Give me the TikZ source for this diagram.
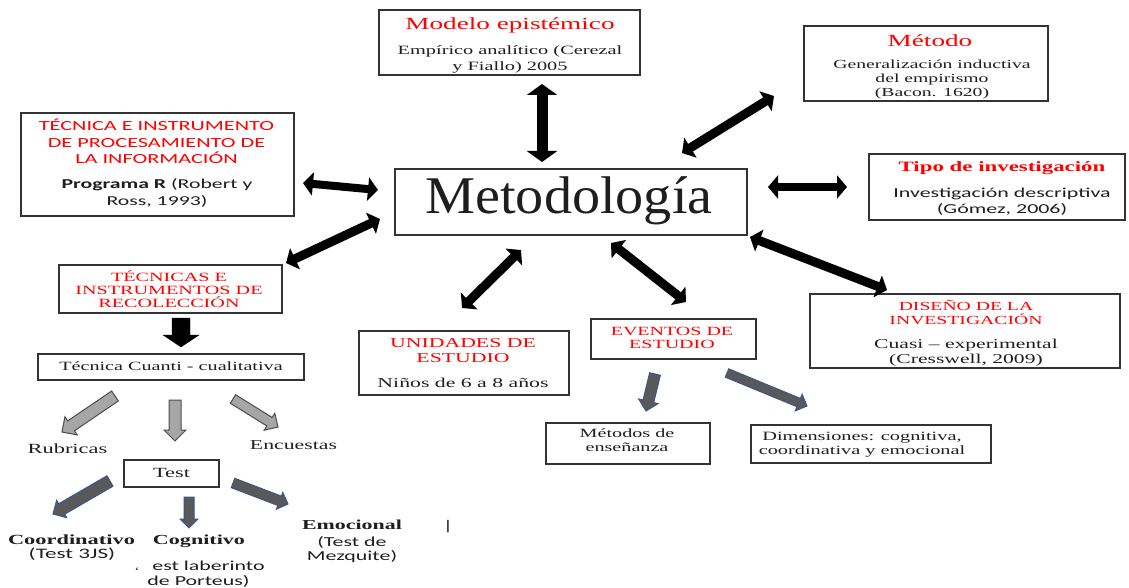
\documentclass[tikz,border=0pt]{standalone}
\usepackage{fontspec}
\setmainfont{Liberation Serif}[FakeStretch=1.6]
\newfontfamily\calw{Carlito}[FakeStretch=1.6]
\newfontfamily\metf{Liberation Serif}[FakeStretch=1.06]
\usetikzlibrary{arrows.meta,calc}
\definecolor{tred}{RGB}{255,0,0}
\definecolor{txt}{RGB}{30,30,30}
\definecolor{bgray}{RGB}{89,89,89}
\definecolor{bblue}{RGB}{60,86,140}
\definecolor{lgray}{RGB}{166,166,166}
\newcommand\fs[1]{\fontsize{#1}{#1}\selectfont}
% block arrow: [style]{from}{to}{shaft half}{head half}{head length}
\newcommand\blkarrow[6][]{%
  \path coordinate (bah) at ($(#3)!#6!(#2)$);
  \draw[#1] ($(#2)!#4!90:(#3)$) -- ($(bah)!#4!90:(#3)$) -- ($(bah)!#5!90:(#3)$)
    -- (#3) -- ($(bah)!#5!-90:(#3)$) -- ($(bah)!#4!-90:(#3)$) -- ($(#2)!#4!-90:(#3)$) -- cycle;}
\tikzset{
  box/.style={draw=black!80, line width=1.3pt, inner sep=0pt},
  tl/.style={anchor=base, inner sep=0pt, text=txt},
  rd/.style={anchor=base, inner sep=0pt, text=tred},
  darr/.style={line width=9pt, {Triangle[width=23pt,length=10pt]}-{Triangle[width=23pt,length=10pt]}},
  darrbig/.style={line width=11pt, {Triangle[width=30pt,length=11pt]}-{Triangle[width=30pt,length=11pt]}},
  garr/.style={fill=lgray, draw=black!70, line width=1pt, line join=miter},
  barr/.style={fill=bgray, draw=bblue, line width=1pt, line join=miter},
}
\begin{document}
\begin{tikzpicture}[x=1pt,y=-1pt]
\useasboundingbox (0,0) rectangle (1129,588);

% ---------- boxes ----------
\node[box, minimum width=261pt, minimum height=65pt] (modelo) at (509.5,42.5) {};
\node[box, minimum width=244pt, minimum height=75pt] (metodo) at (926,63.5) {};
\node[box, minimum width=273pt, minimum height=103pt] (proc) at (157.5,164.5) {};
\node[box, minimum width=352pt, minimum height=66pt] (meto) at (571,202) {};
\node[box, minimum width=256pt, minimum height=66pt] (tipo) at (997,187) {};
\node[box, minimum width=223pt, minimum height=48pt] (recol) at (170.5,289) {};
\node[box, minimum width=266pt, minimum height=26pt] (cuanti) at (171,367) {};
\node[box, minimum width=95pt, minimum height=27pt] (test) at (171.5,473.5) {};
\node[box, minimum width=210pt, minimum height=64pt] (unid) at (464,363) {};
\node[box, minimum width=165pt, minimum height=40pt] (event) at (673.5,339) {};
\node[box, minimum width=310pt, minimum height=74pt] (dise) at (965,331) {};
\node[box, minimum width=164pt, minimum height=41pt] (mens) at (628,443.5) {};
\node[box, minimum width=240pt, minimum height=38pt] (dimen) at (871,444) {};

% ---------- texts ----------
\node[rd, font=\fs{17}] (modeloT) at (510,30) {Modelo epistémico};
\node[tl, font=\fs{12.7}] (modelo1) at (510,55) {Empírico analítico (Cerezal};
\node[tl, font=\fs{12.7}] (modelo2) at (510,71) {y Fiallo) 2005};

\node[rd, font=\fs{17}] (metodoT) at (930,47) {Método};
\node[tl, font=\fs{12.3}] (metodo1) at (932,69) {Generalización inductiva};
\node[tl, font=\fs{12.3}] (metodo2) at (932,83) {del empirismo};
\node[tl, font=\fs{12.3}] (metodo3) at (932,97) {(Bacon. 1620)};

\node[rd, font=\calw\fs{13.9}] (proc1) at (156.5,131) {TÉCNICA E INSTRUMENTO};
\node[rd, font=\calw\fs{13.9}] (proc2) at (156.5,147.5) {DE PROCESAMIENTO DE};
\node[rd, font=\calw\fs{13.9}] (proc3) at (156.5,163.5) {LA INFORMACIÓN};
\node[tl, font=\calw\fs{13.6}] (proc4) at (157,188.5) {\textbf{Programa R} (Robert y};
\node[tl, font=\calw\fs{13.6}] (proc5) at (157,205) {Ross, 1993)};

\node[tl, font=\metf\fs{53}] (metoT) at (569,213) {Metodología};

\node[rd, font=\bfseries\fs{14.3}] (tipoT) at (1002,171.5) {Tipo de investigación};
\node[tl, font=\calw\fs{13.7}] (tipo1) at (1002,197) {Investigación descriptiva};
\node[tl, font=\calw\fs{13.7}] (tipo2) at (1002,214) {(Gómez, 2006)};

\node[rd, font=\fs{12.6}] (recol1) at (169,281) {TÉCNICAS E};
\node[rd, font=\fs{12.6}] (recol2) at (169,294.5) {INSTRUMENTOS DE};
\node[rd, font=\fs{12.6}] (recol3) at (169,307.5) {RECOLECCIÓN};

\node[tl, font=\fs{12.6}] (cuantiT) at (171,370.5) {Técnica Cuanti - cualitativa};
\node[tl, font=\fs{14}] (rubr) at (67.5,453) {Rubricas};
\node[tl, font=\fs{13.6}] (encu) at (293.5,449) {Encuestas};
\node[tl, font=\fs{14}] (testT) at (171.5,477.5) {Test};

\node[tl, font=\bfseries\fs{14}] (coord) at (71.5,544) {Coordinativo};
\node[tl, font=\calw\fs{14.5}] (coord2) at (72,558) {(Test 3JS)};
\node[tl, font=\bfseries\fs{13.8}] (cogn) at (199,544) {Cognitivo};
\node[tl, font=\calw\fs{13.7}] (cogn2) at (208.5,570) {est laberinto};
\node[tl, font=\calw\fs{13.7}] (cogn3) at (198.5,585) {de Porteus)};
\node[tl, font=\fs{10}] (tick) at (137,574) {`};
\node[tl, font=\bfseries\fs{13.7}] (emoc) at (352,529) {Emocional};
\node[tl, font=\calw\fs{13.7}] (emoc2) at (352,546) {(Test de};
\node[tl, font=\calw\fs{13.7}] (emoc3) at (352,560.5) {Mezquite)};
\node[tl, font=\calw\fs{14}] (bar) at (448,530) {|};

\node[rd, font=\fs{13.6}] (unid1) at (463,347.5) {UNIDADES DE};
\node[rd, font=\fs{13.6}] (unid2) at (463,362.5) {ESTUDIO};
\node[tl, font=\fs{13.6}] (unid3) at (463,387) {Niños de 6 a 8 años};

\node[rd, font=\fs{12.5}] (event1) at (672,335) {EVENTOS DE};
\node[rd, font=\fs{12.5}] (event2) at (672,348.5) {ESTUDIO};

\node[rd, font=\fs{12.3}] (dise1) at (966,310) {DISEÑO DE LA};
\node[rd, font=\fs{12.3}] (dise2) at (966,324.5) {INVESTIGACIÓN};
\node[tl, font=\fs{13.5}] (dise3) at (966,348) {Cuasi – experimental};
\node[tl, font=\fs{13.5}] (dise4) at (966,363) {(Cresswell, 2009)};

\node[tl, font=\fs{12.6}] (mens1) at (627,437.5) {Métodos de};
\node[tl, font=\fs{12.6}] (mens2) at (627,451.5) {enseñanza};
\node[tl, font=\fs{12.7}] (dimen1) at (862,440.5) {Dimensiones: cognitiva,};
\node[tl, font=\fs{12.7}] (dimen2) at (862,454.5) {coordinativa y emocional};

% ---------- double arrows ----------
\coordinate (a1s) at (542,84);  \coordinate (a1e) at (542,162);
\coordinate (a2s) at (682,153); \coordinate (a2e) at (774,96);
\coordinate (a3s) at (303,183); \coordinate (a3e) at (378,190);
\coordinate (a4s) at (286,263); \coordinate (a4e) at (380,219);
\coordinate (a5s) at (768,187); \coordinate (a5e) at (847,187);
\coordinate (a6s) at (521,250); \coordinate (a6e) at (462,308);
\coordinate (a7s) at (611,243); \coordinate (a7e) at (686,302);
\coordinate (a8s) at (750,237); \coordinate (a8e) at (887,290);
\draw[darrbig] (a1s) -- (a1e);
\draw[darr] (a2s) -- (a2e);
\draw[darr, line width=8pt] (a3s) -- (a3e);
\draw[darr] (a4s) -- (a4e);
\draw[darr, line width=8pt] (a5s) -- (a5e);
\draw[darr] (a6s) -- (a6e);
\draw[darr] (a7s) -- (a7e);
\draw[darr] (a8s) -- (a8e);

% ---------- block arrows ----------
\coordinate (k1s) at (181,318); \coordinate (k1e) at (181,347);
\blkarrow[fill=black]{k1s}{k1e}{9pt}{18pt}{12pt}
\coordinate (g1s) at (115,396); \coordinate (g1e) at (62,432);
\coordinate (g2s) at (175,400); \coordinate (g2e) at (175,441);
\coordinate (g3s) at (233,399); \coordinate (g3e) at (278,427);
\blkarrow[garr]{g1s}{g1e}{6pt}{11pt}{11pt}
\blkarrow[garr]{g2s}{g2e}{6pt}{11pt}{11pt}
\blkarrow[garr]{g3s}{g3e}{5pt}{10pt}{10pt}
\coordinate (b1s) at (110,481); \coordinate (b1e) at (53,514);
\coordinate (b2s) at (189,497); \coordinate (b2e) at (189,528);
\coordinate (b3s) at (233,483); \coordinate (b3e) at (288,504);
\blkarrow[barr]{b1s}{b1e}{6pt}{10pt}{10pt}
\blkarrow[barr]{b2s}{b2e}{5pt}{9pt}{9pt}
\blkarrow[barr]{b3s}{b3e}{5pt}{9pt}{9pt}
\coordinate (e1s) at (655,374); \coordinate (e1e) at (646,411);
\coordinate (e2s) at (727,373); \coordinate (e2e) at (807,406);
\blkarrow[barr]{e1s}{e1e}{5.5pt}{10pt}{10pt}
\blkarrow[barr]{e2s}{e2e}{4.5pt}{9pt}{9pt}
\end{tikzpicture}
\end{document}
